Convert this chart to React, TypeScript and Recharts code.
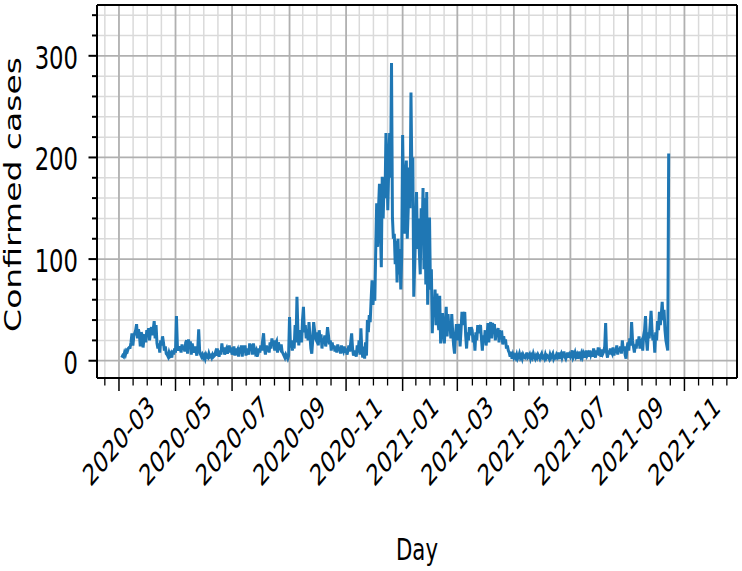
import React from "react";
import { LineChart, Line, XAxis, YAxis, CartesianGrid } from "recharts";

const ORIGIN = Date.UTC(2020, 2, 1);
const DAY_MS = 86400000;
const dayOf = (y: number, m: number, d = 1) => (Date.UTC(y, m - 1, d) - ORIGIN) / DAY_MS;

// daily confirmed cases
const mar2020 = [3, 5, 4, 8, 6, 10, 9, 12, 13, 13, 18, 27, 15, 24, 27, 30, 36, 22, 31, 26, 14, 28, 25, 13, 22, 26, 18, 30];
const apr2020 = [27, 32, 20, 29, 33, 25, 31, 39, 22, 35, 17, 12, 17, 8, 20, 15, 24, 18, 10, 14, 7, 6, 4, 8, 5, 7, 3, 10, 6, 12];
const may2020 = [8, 44, 15, 10, 13, 13, 8, 16, 11, 14, 9, 18, 20, 7, 21, 15, 19, 6, 17, 12, 8, 14, 10, 5, 12, 31, 10, 6, 4, 6, 3];
const jun2020 = [5, 2, 6, 4, 3, 7, 4, 5, 3, 6, 4, 5, 8, 5, 12, 7, 4, 10, 6, 17, 9, 13, 6, 10, 12, 7, 11, 15, 8, 13];
const jul2020 = [6, 10, 14, 5, 12, 9, 11, 4, 13, 7, 15, 4, 15, 8, 15, 5, 12, 9, 6, 17, 10, 16, 6, 17, 12, 8, 10, 4, 7, 12, 8];
const aug2020 = [15, 10, 20, 27, 12, 6, 15, 9, 14, 8, 18, 12, 22, 15, 20, 10, 17, 19, 8, 18, 14, 12, 16, 9, 7, 5, 3, 6, 4, 2, 5];
const sep2020 = [43, 13, 20, 10, 15, 12, 35, 18, 63, 30, 15, 25, 30, 18, 40, 53, 28, 35, 22, 30, 20, 38, 25, 12, 7, 20, 38, 30, 22, 20];
const oct2020 = [28, 15, 30, 20, 26, 12, 22, 17, 25, 14, 22, 33, 25, 16, 20, 10, 18, 12, 15, 9, 14, 8, 16, 10, 13, 7, 15, 11, 9, 14, 8];
const nov2020 = [12, 6, 10, 15, 9, 18, 27, 12, 5, 10, 7, 4, 15, 8, 20, 6, 32, 10, 3, 14, 2, 18, 5, 40, 28, 45, 38, 60, 79, 55];
const dec2020 = [70, 59, 110, 155, 112, 150, 174, 130, 92, 181, 140, 175, 160, 224, 197, 148, 190, 224, 180, 293, 141, 120, 125, 95, 118, 77, 120, 85, 110, 70, 102];
const jan2021 = [222, 160, 125, 180, 197, 120, 148, 190, 150, 264, 180, 200, 63, 95, 130, 166, 110, 140, 108, 85, 150, 120, 170, 90, 160, 75, 166, 55, 100, 141, 70];
const feb2021 = [90, 27, 60, 45, 70, 35, 66, 40, 30, 64, 17, 40, 47, 25, 17, 35, 53, 24, 46, 30, 38, 22, 46, 28, 15, 7, 25, 36];
const mar2021 = [20, 32, 36, 14, 30, 48, 35, 45, 48, 25, 12, 28, 20, 33, 25, 33, 30, 18, 25, 10, 28, 20, 35, 27, 33, 35, 22, 10, 25, 18, 30];
const apr2021 = [15, 23, 37, 18, 35, 38, 22, 37, 33, 36, 20, 31, 28, 32, 18, 30, 26, 27, 16, 24, 18, 21, 12, 15, 10, 8, 4, 9, 2, 6];
const may2021 = [3, 5, 3, 6, 2, 4, 7, 3, 5, 2, 6, 4, 3, 5, 8, 3, 4, 6, 2, 5, 3, 7, 4, 2, 5, 3, 6, 4, 2, 5, 7];
const jun2021 = [3, 4, 2, 6, 3, 5, 4, 2, 6, 3, 5, 7, 2, 4, 3, 6, 4, 8, 2, 5, 7, 3, 6, 9, 4, 2, 5, 8, 3, 6];
const jul2021 = [4, 7, 10, 3, 5, 8, 4, 6, 2, 9, 5, 3, 7, 4, 8, 6, 3, 10, 5, 7, 4, 10, 6, 9, 4, 12, 7, 3, 10, 6, 13];
const aug2021 = [5, 8, 4, 11, 7, 9, 14, 37, 8, 3, 10, 6, 12, 9, 7, 13, 5, 11, 8, 15, 6, 12, 9, 14, 7, 20, 10, 14, 6, 2, 12];
const sep2021 = [18, 10, 22, 15, 38, 20, 14, 8, 16, 12, 21, 15, 24, 12, 18, 20, 10, 25, 30, 44, 20, 10, 28, 22, 35, 49, 30, 20, 25, 8];
const oct2021 = [28, 20, 39, 30, 48, 35, 45, 58, 40, 50, 30, 20, 15, 10, 204];

// [year, month, first day, values]
const monthBlocks: [number, number, number, number[]][] = [
  [2020, 3, 4, mar2020], [2020, 4, 1, apr2020], [2020, 5, 1, may2020], [2020, 6, 1, jun2020],
  [2020, 7, 1, jul2020], [2020, 8, 1, aug2020], [2020, 9, 1, sep2020], [2020, 10, 1, oct2020],
  [2020, 11, 1, nov2020], [2020, 12, 1, dec2020], [2021, 1, 1, jan2021], [2021, 2, 1, feb2021],
  [2021, 3, 1, mar2021], [2021, 4, 1, apr2021], [2021, 5, 1, may2021], [2021, 6, 1, jun2021],
  [2021, 7, 1, jul2021], [2021, 8, 1, aug2021], [2021, 9, 1, sep2021], [2021, 10, 1, oct2021],
];

const xTickLabels = ["2020-03", "2020-05", "2020-07", "2020-09", "2020-11", "2021-01", "2021-03", "2021-05", "2021-07", "2021-09", "2021-11"];
const yMajorTicks = [0, 100, 200, 300];
const yMinorTicks = [20, 40, 60, 80, 120, 140, 160, 180, 220, 240, 260, 280, 320, 340];

const X_DOMAIN: [number, number] = [-23.7, 666.7];
const Y_DOMAIN: [number, number] = [-17, 350];

const data = monthBlocks.flatMap(([y, m, d0, vals]) =>
  vals.map((v, i) => ({ day: dayOf(y, m, d0) + i, cases: v }))
);

const xMajor = xTickLabels.map((s) => {
  const [y, m] = s.split("-").map(Number);
  return dayOf(y, m);
});
const minorStep = (xMajor[1] - xMajor[0]) / 4;
const xMinor: number[] = [];
for (let k = -1; k * minorStep <= X_DOMAIN[1]; k++) {
  if (k % 4 !== 0) xMinor.push(k * minorStep);
}
const xAllTicks = [...xMajor, ...xMinor].sort((a, b) => a - b);
const yAllTicks = [...yMajorTicks, ...yMinorTicks].sort((a, b) => a - b);

const FONT = "DejaVu Sans";
const SQUEEZE = 0.71;
const FS = 32;

function XTick({ x, y, payload }: any) {
  const i = xMajor.indexOf(payload.value);
  if (i < 0) {
    return <line x1={x} y1={y} x2={x} y2={y + 7.5} stroke="#000" strokeWidth={1.3} />;
  }
  return (
    <g>
      <line x1={x} y1={y} x2={x} y2={y + 13} stroke="#000" strokeWidth={1.5} />
      <text
        transform={`translate(${x},${y + 63}) scale(${SQUEEZE},1) rotate(-40)`}
        textAnchor="middle"
        dominantBaseline="central"
        fontSize={29}
        fontFamily={FONT}
        fill="#000"
      >
        {xTickLabels[i]}
      </text>
    </g>
  );
}

function YTick({ x, y, payload }: any) {
  const major = yMajorTicks.includes(payload.value);
  if (!major) {
    return <line x1={x - 5} y1={y} x2={x} y2={y} stroke="#000" strokeWidth={2} />;
  }
  return (
    <g>
      <line x1={x - 8.5} y1={y} x2={x} y2={y} stroke="#000" strokeWidth={2} />
      <text
        transform={`translate(${x - 19},${y + 13}) scale(${SQUEEZE},1)`}
        textAnchor="end"
        fontSize={FS}
        fontFamily={FONT}
        fill="#000"
      >
        {payload.value}
      </text>
    </g>
  );
}

export default function App() {
  return (
    <div style={{ position: "absolute", left: 0, top: 0, width: 742, height: 571, background: "#fff" }}>
      <LineChart width={742} height={571} data={data} margin={{ top: 5, right: 5, bottom: 0, left: 0 }}>
        <CartesianGrid verticalValues={xMinor} horizontalValues={yMinorTicks} stroke="#dadada" strokeWidth={1.5} />
        <CartesianGrid verticalValues={xMajor} horizontalValues={yMajorTicks} stroke="#b0b0b0" strokeWidth={1.8} />
        <CartesianGrid verticalValues={X_DOMAIN} horizontalValues={Y_DOMAIN} stroke="#000" strokeWidth={2} />
        <XAxis
          dataKey="day"
          type="number"
          domain={X_DOMAIN}
          allowDataOverflow
          ticks={xAllTicks}
          interval={0}
          tick={(p: any) => <XTick {...p} />}
          tickLine={false}
          axisLine={false}
          tickSize={0}
          tickMargin={0}
          height={193}
        />
        <YAxis
          type="number"
          domain={Y_DOMAIN}
          allowDataOverflow
          ticks={yAllTicks}
          interval={0}
          tick={(p: any) => <YTick {...p} />}
          tickLine={false}
          axisLine={false}
          tickSize={0}
          tickMargin={0}
          width={97}
        />
        <Line
          type="linear"
          dataKey="cases"
          stroke="#1f77b4"
          strokeWidth={3}
          dot={false}
          isAnimationActive={false}
        />
      </LineChart>
      <svg width={742} height={571} style={{ position: "absolute", left: 0, top: 0, pointerEvents: "none" }}>
        <text
          transform={`translate(21,194.5) scale(${SQUEEZE},1) rotate(-90)`}
          textAnchor="middle"
          fontSize={33}
          fontFamily={FONT}
          fill="#000"
        >
          Confirmed cases
        </text>
        <text
          transform={`translate(417,560) scale(${SQUEEZE},1)`}
          textAnchor="middle"
          fontSize={30}
          fontFamily={FONT}
          fill="#000"
        >
          Day
        </text>
      </svg>
    </div>
  );
}
